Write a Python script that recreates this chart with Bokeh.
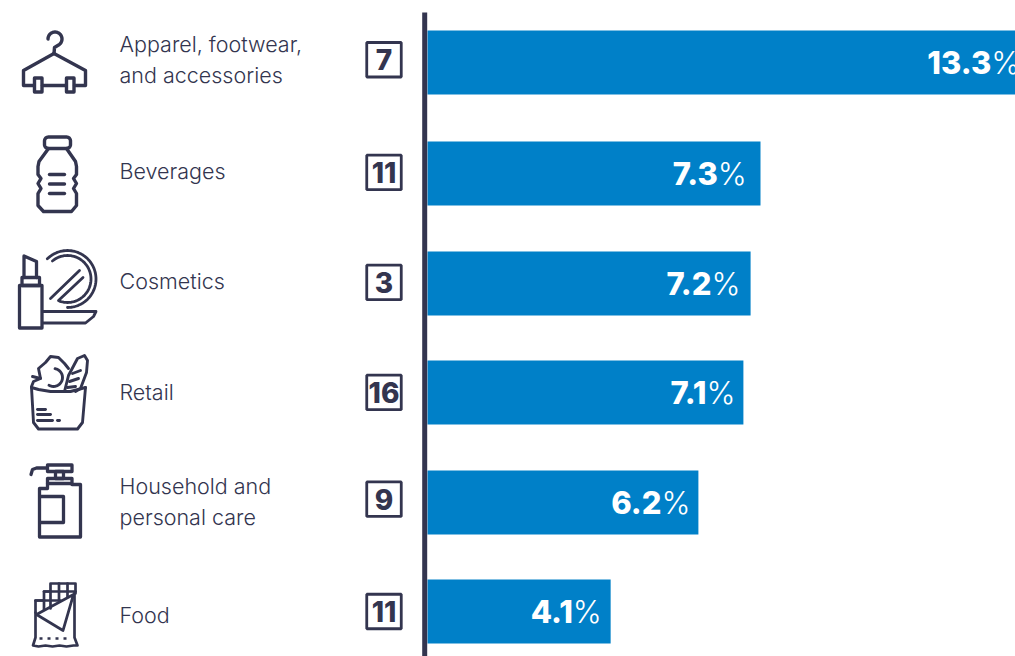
import math
from bokeh.plotting import figure
from bokeh.models import Range1d
from bokeh.core.properties import value
from bokeh.embed import file_html
from bokeh.resources import INLINE

# ---- data
categories = ["Apparel, footwear,\nand accessories", "Beverages", "Cosmetics", "Retail",
              "Household and\npersonal care", "Food"]
counts = ["7", "11", "3", "16", "9", "11"]
share_labels = ["13.3", "7.3", "7.2", "7.1", "6.2", "4.1"]
share_bars = [13.4, 7.4, 7.18, 7.02, 6.02, 4.07]

# ---- layout (not data)
FONT = "Inter Light"
FONT_BOLD = "Inter ExtraBold"
NAVY = "#33354f"
BLUE = "#0080c8"
row_y = [0, 1.011, 2.013, 3.005, 4.007, 5]
cat_dy = [-0.03, -0.02, -0.02, 0, -0.01, 0.03]
box_dy = [-0.025, -0.01, -0.01, 0, -0.03, 0]
label_inset = [0.87, 0.95, 0.87, 0.82, 0.82, 0.84]

W, H = 1015, 656
PXU, PYU = 45.0, 109.8
x0_fig, y0_fig = 427, 62

p = figure(width=W, height=H, output_backend="svg", toolbar_location=None,
           x_range=Range1d(-x0_fig / PXU, (W - x0_fig) / PXU),
           y_range=Range1d((H - y0_fig) / PYU, -y0_fig / PYU),
           x_axis_location=None, y_axis_location=None,
           min_border=0, outline_line_color=None, background_fill_color="white")
p.grid.visible = False
p.extra_x_ranges["px"] = Range1d(0, W)
p.extra_y_ranges["px"] = Range1d(H, 0)
PX = dict(x_range_name="px", y_range_name="px")

# bars
p.hbar(y=row_y, left=0, right=share_bars, height=64 / PYU, fill_color=BLUE, line_color=None)

# vertical rule
p.line([424.2, 424.2], [12, 656], line_color=NAVY, line_width=5, **PX)

# category labels
p.text(x=[119] * 6, y=[r + d for r, d in zip(row_y, cat_dy)], text=categories, x_range_name="px",
       text_font=value(FONT), text_font_size="21.5px", text_color=NAVY, text_baseline="middle",
       text_align="left", text_line_height=1.2)

# count boxes
boxes_y = [r + d for r, d in zip(row_y, box_dy)]
p.rect(x=[383.5] * 6, y=boxes_y, width=34.5, height=34.5, width_units="screen", height_units="screen",
       fill_color=None, line_color=NAVY, line_width=2.8, x_range_name="px")
p.text(x=[383.5] * 6, y=boxes_y, text=counts, x_range_name="px", text_font=value(FONT_BOLD),
       text_font_size="28px", text_color=NAVY,
       text_align="center", text_baseline="middle")

# share labels
anchor = [b - i for b, i in zip(share_bars, label_inset)]
p.text(x=anchor, y=row_y, text=share_labels, text_font=value(FONT_BOLD), text_font_size="31px",
       text_color="white", text_align="right", text_baseline="middle")
p.text(x=anchor, y=row_y, text=["%"] * 6, text_font=value(FONT), text_font_size="31px",
       text_color="white", text_align="left", text_baseline="middle")

# ---- icons, traced in page pixels
def arc(cx, cy, r, a0, a1, n=40):
    return [(cx + r * math.cos(math.radians(a0 + (a1 - a0) * i / n)),
             cy - r * math.sin(math.radians(a0 + (a1 - a0) * i / n))) for i in range(n + 1)]

def rr(x0, y0, x1, y1, r):
    return (arc(x0 + r, y0 + r, r, 180, 90, 8) + arc(x1 - r, y0 + r, r, 90, 0, 8) +
            arc(x1 - r, y1 - r, r, 0, -90, 8) + arc(x0 + r, y1 - r, r, -90, -180, 8) + [(x0, y0 + r)])

def box(x0, y0, x1, y1):
    return [(x0, y0), (x1, y0), (x1, y1), (x0, y1), (x0, y0)]

def draw(paths, lw=3.4):
    p.multi_line([[q[0] for q in s] for s in paths], [[q[1] for q in s] for s in paths],
                 line_color=NAVY, line_width=lw, line_join="round", line_cap="round", **PX)

# hanger
draw([arc(54.5, 38.5, 7, 180, -60, 24) + [(54, 47), (53.5, 53)],
      [(53.5, 53), (23, 70), (23, 85), (33, 85)],
      [(42, 85), (65, 85)],
      [(74, 85), (85, 85), (85, 70), (53.5, 53)],
      box(34, 77.5, 41.5, 91.5), box(66, 77.5, 73.5, 91.5)])

# bottle
draw([rr(44, 136.5, 70, 148, 4),
      [(48, 148), (38.5, 161), (37.5, 166), (37.5, 174), (40.5, 178), (37.5, 183), (40.5, 188),
       (37.5, 193), (37.5, 205), (43, 211), (71, 211), (76, 205), (76, 193), (73, 188),
       (76, 183), (73, 178), (76, 174), (76, 166), (75, 161), (66, 148)],
      [(49, 174), (64, 174)], [(49, 183.5), (64, 183.5)], [(49, 193), (64, 193)]])

# cosmetics
draw([arc(67, 278.5, 28.5, 135, -90, 60), arc(67, 278.5, 23.5, 130, -110, 60),
      [(50, 298), (79, 270)], [(58, 300), (82.5, 277)],
      [(42, 311), (95.5, 311), (93, 316), (85, 322.5), (42, 322.5)]], lw=2.8)
draw([box(19, 285, 41.5, 327.5), box(21.5, 277, 39, 285),
      [(23.5, 277), (23.5, 255.5), (36, 261), (36, 277)]], lw=3.3)

# retail
draw([[(31, 387), (33, 422), (38, 428.5), (77, 428.5), (82, 422), (85, 387)],
      [(31, 387), (38, 389), (50, 391), (60, 391), (70, 391), (85, 387)],
      [(31, 386), (33, 381), (40, 378), (38, 368), (45, 362), (50, 356), (58, 357), (64, 363), (68, 368)],
      [(32, 376), (40, 378)],
      arc(53, 377, 9, 80, -120, 20),
      [(64, 391), (68, 375), (77, 358), (84, 355), (87, 360), (86, 372), (80, 388), (75, 391)],
      [(72, 373), (80, 370)], [(69, 381), (78, 378)], [(67, 387), (75, 386)],
      [(37, 409), (45, 409)], [(37, 414), (50, 414)], [(37, 420), (52, 420)], [(57, 420), (59, 420)]], lw=2.9)

# pump
draw([box(47, 464.5, 71.5, 471), [(30.5, 474), (32, 469), (36, 467.5), (47, 467.5)],
      box(55, 471, 63, 478), box(47, 478, 71.5, 483),
      [(47, 483), (47, 488), (39, 488), (39, 536.5), (80, 536.5), (80, 484), (71.5, 484)],
      [(40, 496), (63, 496), (63, 522), (40, 522)]], lw=3.3)

# food
draw([[(35, 612), (35, 637), (32.5, 645), (38, 646), (45, 645), (52, 646), (59, 645), (66, 646),
       (73, 645), (77, 645), (74, 637), (74, 592)],
      [(35, 612), (35, 600), (43.5, 600), (43.5, 591), (50, 591), (50, 583), (75, 583), (75, 593)],
      [(36, 614), (73, 594), (62.5, 630), (36, 614)],
      [(43.5, 591), (75, 591)], [(35, 600), (60, 600)],
      [(58.5, 583), (58.5, 600)], [(67, 583), (67, 596)], [(50, 591), (50, 608)], [(43.5, 600), (43.5, 609)]], lw=2.7)
p.line([39, 71], [638, 638], line_color=NAVY, line_width=2.7, line_dash="3 5", **PX)

html = file_html(p, INLINE)
open("out.html", "w").write(html)
